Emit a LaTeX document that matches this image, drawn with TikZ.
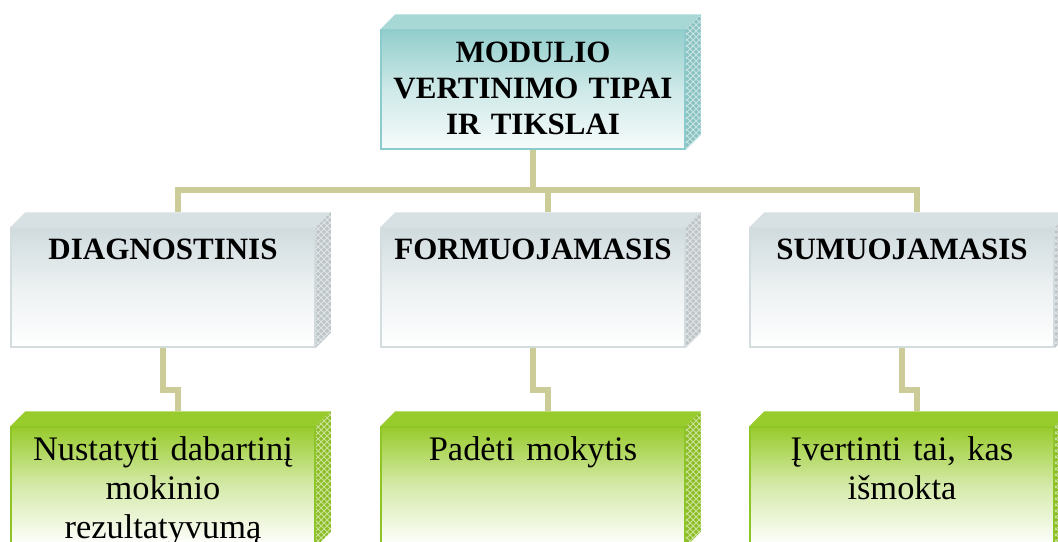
\documentclass[tikz,border=0pt]{standalone}
\usepackage{fontspec}
\setmainfont{Liberation Serif}
\usetikzlibrary{calc,patterns}
\definecolor{linkcol}{HTML}{CCCC99}
\definecolor{headtop}{HTML}{92CECC}
\definecolor{headline}{HTML}{8BCBCB}
\definecolor{headside}{HTML}{88C2C2}
\definecolor{typetop}{HTML}{D0DBDE}
\definecolor{typeline}{HTML}{D3DDE0}
\definecolor{typeside}{HTML}{BCC5C8}
\definecolor{aimtop}{HTML}{98CB2C}
\definecolor{aimline}{HTML}{8DC426}
\definecolor{aimside}{HTML}{8CBE24}

% bevel on top and textured side face of a box node
\newcommand\boxcube[3]{%
  \fill[#2] (#1.north west) -- ++(15,-15) -- ($(#1.north east)+(15,-15)$) -- (#1.north east) -- cycle;
  \fill[#3] (#1.north east) -- ++(15,-15) -- ($(#1.south east)+(15,-15)$) -- (#1.south east) -- cycle;
  \fill[pattern=crosshatch, pattern color=white!55!#3] (#1.north east) -- ++(15,-15) -- ($(#1.south east)+(15,-15)$) -- (#1.south east) -- cycle;
  \coordinate (#1-top) at ($(#1.north)+(15,-15)$);
}

\tikzset{
  cube/.style={inner sep=0pt, text width=152pt, align=center, line width=0.75pt},
  headbox/.style={cube, draw=headline, top color=headtop, bottom color=headtop!8, middle color=headtop!45,
    text height=16pt, text depth=43.5pt, font=\fontsize{15.5}{18}\selectfont\bfseries},
  typebox/.style={cube, draw=typeline, top color=typetop, bottom color=white, middle color=typetop!40,
    text height=15.5pt, text depth=44pt, font=\fontsize{15.5}{18}\selectfont\bfseries},
  aimbox/.style={cube, draw=aimline, top color=aimtop, bottom color=white, middle color=aimtop!40,
    text height=16.5pt, text depth=43pt, font=\fontsize{17.2}{19.5}\selectfont},
  link/.style={draw=linkcol, line width=3.25pt}
}

\begin{document}
\begin{tikzpicture}[x=0.5pt, y=-0.5pt]
\clip (0,0) rectangle (1058,541);

\node[headbox] (head) at (533,89.5) {MODULIO\\VERTINIMO TIPAI\\IR TIKSLAI};
\boxcube{head}{headtop!80!white}{headside}

\node[typebox] (diag) at (163,287.5) {DIAGNOSTINIS};
\node[typebox] (form) at (533,287.5) {FORMUOJAMASIS};
\node[typebox] (sum) at (902,287.5) {SUMUOJAMASIS};
\foreach \n in {diag,form,sum} {\boxcube{\n}{typetop!85!white}{typeside}}

\node[aimbox] (aim1) at (163,486.5) {Nustatyti dabartinį\\mokinio\\rezultatyvumą};
\node[aimbox] (aim2) at (533,486.5) {Padėti mokytis};
\node[aimbox] (aim3) at (902,486.5) {Įvertinti tai, kas\\išmokta};
\foreach \n in {aim1,aim2,aim3} {\boxcube{\n}{aimtop}{aimside}}

% connectors
\draw[link] (head.south) -- ++(0,41.5);
\draw[link] (diag-top) -- ++(0,-22.5) -| (sum-top);
\draw[link] (form-top) -- ++(0,-22.5);
\draw[link] (diag.south) -- ++(0,42) -| (aim1-top);
\draw[link] (form.south) -- ++(0,42) -| (aim2-top);
\draw[link] (sum.south) -- ++(0,42) -| (aim3-top);
\end{tikzpicture}
\end{document}
